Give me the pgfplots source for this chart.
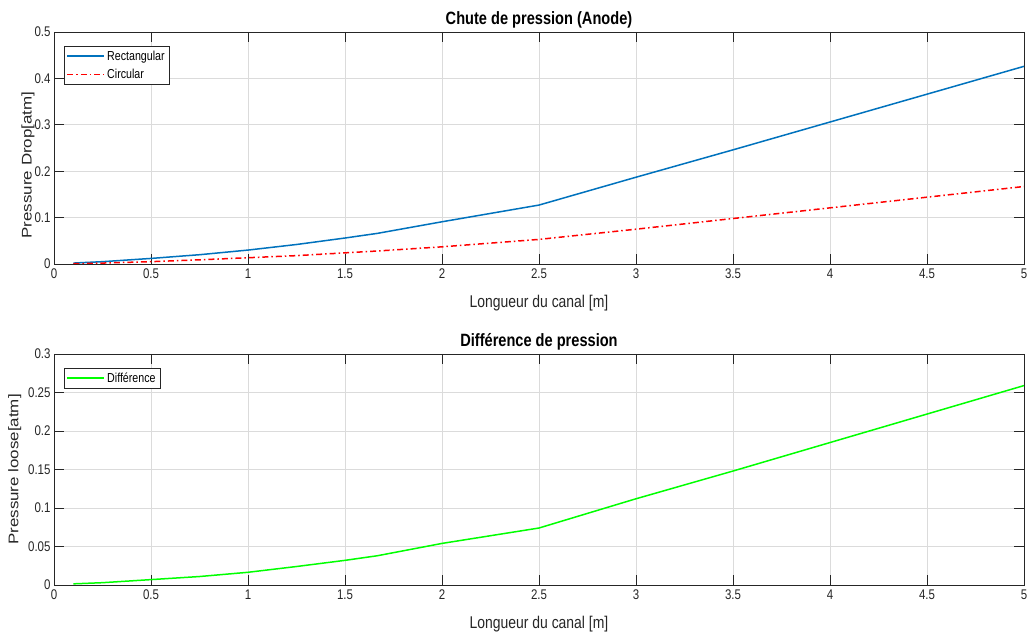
\documentclass[border=0pt]{standalone}
\usepackage{fontspec}
\setmainfont{Liberation Sans}
\newfontfamily\narrow{Liberation Sans}[FakeStretch=0.82]
\newfontfamily\wide{Liberation Sans}[FakeStretch=1.21]
\usepackage{pgfplots}
\pgfplotsset{compat=1.18}
\definecolor{mblue}{RGB}{0,114,189}
\definecolor{mgreen}{RGB}{0,255,0}
\definecolor{axgray}{RGB}{38,38,38}
\pgfplotsset{
  legend image code/.code={\draw[#1] (0pt,0pt) -- (37pt,0pt);},
  mat/.style={
    scale only axis, width=970pt,
    xmin=0, xmax=5,
    xtick={0,0.5,1,1.5,2,2.5,3,3.5,4,4.5,5},
    grid=major, major grid style={black!14, line width=0.6pt},
    tick align=inside, major tick length=10pt,
    axis line style={axgray, line width=0.6pt},
    tick style={axgray, line width=0.6pt},
    /pgf/number format/assume math mode=true,
    /pgf/number format/fixed,
    ticklabel style={font=\narrow\fontsize{14}{14}\selectfont, text=axgray},
    xticklabel style={yshift=-1pt},
    title style={font=\narrow\bfseries\fontsize{17.8}{18}\selectfont, yshift=-6pt},
    xlabel style={font=\narrow\fontsize{17}{17}\selectfont, text=axgray, yshift=-10pt},
    ylabel style={font=\wide\fontsize{14}{14}\selectfont, text=axgray},
    legend style={at={(0,1)}, anchor=north west, xshift=10pt, yshift=-14pt,
      draw=axgray, font=\narrow\fontsize{13}{13}\selectfont, text=black,
      inner sep=2.5pt, row sep=3.5pt, cells={anchor=west}},
  }
}
\begin{document}
\begin{tikzpicture}
\path[use as bounding box] (0,0) rectangle (1029pt,634pt);
\begin{axis}[mat, at={(54pt,370pt)}, anchor=south west, height=232pt,
  ymin=0, ymax=0.5, ytick={0,0.1,0.2,0.3,0.4,0.5},
  title={Chute de pression (Anode)},
  xlabel={Longueur du canal [m]},
  ylabel={Pressure Drop[atm]},
  ylabel style={xshift=-17pt, yshift=-7pt}]
\addplot[mblue, line width=1.5pt] coordinates {
(0.1,0.002) (0.25,0.005) (0.5,0.012) (0.75,0.020) (1.0,0.030) (1.25,0.042)
(1.5,0.056) (1.667,0.066) (2.0,0.091) (2.5,0.127) (3.0,0.187)
(3.5,0.246) (4.0,0.306) (4.5,0.366) (5.0,0.426)};
\addlegendentry{Rectangular}
\addplot[red, line width=1.5pt, dash pattern=on 6pt off 3pt on 1.5pt off 3pt] coordinates {
(0.1,0.0005) (0.25,0.002) (0.5,0.005) (0.75,0.009) (1.0,0.0135) (1.25,0.018)
(1.5,0.024) (1.667,0.028) (2.0,0.037) (2.5,0.053) (3.0,0.075)
(3.5,0.098) (4.0,0.121) (4.5,0.144) (5.0,0.167)};
\addlegendentry{Circular}
\end{axis}
\begin{axis}[mat, at={(54pt,49pt)}, anchor=south west, height=231pt,
  ymin=0, ymax=0.3, ytick={0,0.05,0.1,0.15,0.2,0.25,0.3},
  title={Différence de pression},
  xlabel={Longueur du canal [m]},
  ylabel={Pressure loose[atm]}]
\addplot[mgreen, line width=1.5pt] coordinates {
(0.1,0.0015) (0.25,0.003) (0.5,0.007) (0.75,0.011) (1.0,0.0165) (1.25,0.024)
(1.5,0.032) (1.667,0.038) (2.0,0.054) (2.5,0.074) (3.0,0.112)
(3.5,0.148) (4.0,0.185) (4.5,0.222) (5.0,0.259)};
\addlegendentry{Différence}
\end{axis}
\end{tikzpicture}
\end{document}
